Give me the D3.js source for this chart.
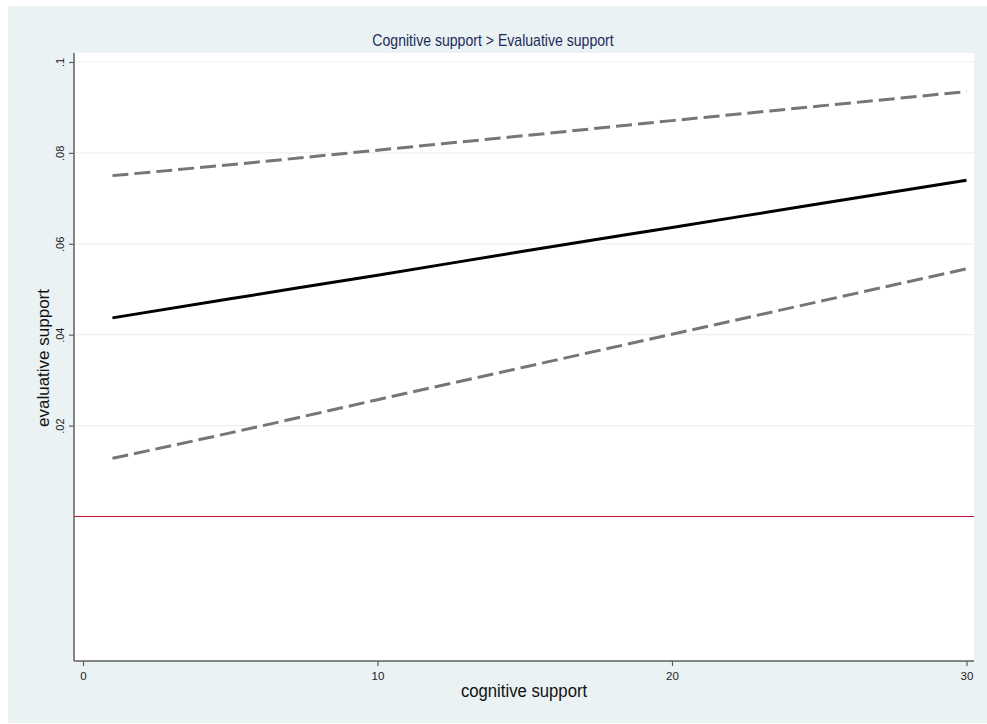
<!DOCTYPE html>
<html>
<head>
<meta charset="utf-8">
<script src="https://cdn.jsdelivr.net/npm/d3@7"></script>
<style>
  body { margin: 0; background: #fff; }
  text { font-family: "Liberation Sans", Arial, sans-serif; }
</style>
</head>
<body>
<div class="chart"></div>
<script>
// values
const xVals = [1, 5, 10, 15, 20, 25, 30];
const fitVals = [0.0437, 0.0479, 0.0531, 0.0584, 0.0636, 0.0688, 0.0740];
const upperVals = [0.0750, 0.0774, 0.0806, 0.0838, 0.0871, 0.0903, 0.0935];
const lowerVals = [0.0128, 0.0184, 0.0257, 0.0329, 0.0401, 0.0473, 0.0545];
const xTicks = [0, 10, 20, 30];
const yTicks = [0.02, 0.04, 0.06, 0.08, 0.1];
const yTickLabels = ['.02', '.04', '.06', '.08', '.1'];
const refLine = 0;

const W = 987, H = 724;
// plot box
const box = {left: 74, top: 53, right: 974, bottom: 661};

const svg = d3.select('.chart')
  .append('svg')
  .attr('width', W)
  .attr('height', H);

// outer graph region
svg.append('rect')
  .attr('x', 8).attr('y', 6)
  .attr('width', W - 8).attr('height', H - 7)
  .attr('fill', '#eaf2f3');

svg.append('rect')
  .attr('x', box.left).attr('y', box.top)
  .attr('width', box.right - box.left).attr('height', box.bottom - box.top)
  .attr('fill', '#fff');

const x = d3.scaleLinear().domain([0, 30]).range([83, 966.5]);
const y = d3.scaleLinear().domain([0, 0.1]).range([516.5, 62]);

// gridlines
svg.append('g').selectAll('line')
  .data(yTicks)
  .enter()
  .append('line')
  .attr('x1', box.left).attr('x2', box.right)
  .attr('y1', d => y(d)).attr('y2', d => y(d))
  .attr('stroke', '#eaf2f3')
  .attr('stroke-width', 1.2);

// reference line at zero
svg.append('line')
  .attr('x1', box.left).attr('x2', box.right)
  .attr('y1', y(refLine)).attr('y2', y(refLine))
  .attr('stroke', '#c8103a')
  .attr('stroke-width', 1.2);

const fitData = xVals.map((d, i) => ({x: d, y: fitVals[i]}));
const upData = xVals.map((d, i) => ({x: d, y: upperVals[i]}));
const lowData = xVals.map((d, i) => ({x: d, y: lowerVals[i]}));

const line = d3.line()
  .x(d => x(d.x))
  .y(d => y(d.y))
  .curve(d3.curveMonotoneX);

[upData, lowData].forEach(data => {
  svg.append('path')
    .datum(data)
    .attr('d', line)
    .attr('fill', 'none')
    .attr('stroke', '#767676')
    .attr('stroke-width', 3)
    .attr('stroke-dasharray', '16,6');
});

svg.append('path')
  .datum(fitData)
  .attr('d', line)
  .attr('fill', 'none')
  .attr('stroke', '#000')
  .attr('stroke-width', 3);

// axes
const axisColor = '#5f5f5f';

const yAxis = d3.axisLeft(y)
  .tickValues(yTicks)
  .tickSize(5)
  .tickFormat((d, i) => yTickLabels[i]);

const gy = svg.append('g')
  .attr('class', 'y-axis')
  .attr('transform', `translate(${box.left},0)`)
  .call(yAxis);
gy.select('.domain').remove();
gy.selectAll('.tick line').attr('stroke', axisColor).attr('stroke-width', 1.2);
gy.selectAll('.tick text')
  .attr('x', 0).attr('dy', null)
  .attr('transform', 'translate(-10,0) rotate(-90)')
  .attr('text-anchor', 'middle')
  .attr('fill', '#222')
  .style('font-size', '11px');

gy.append('line')
  .attr('x1', 0).attr('x2', 0)
  .attr('y1', box.top).attr('y2', box.bottom)
  .attr('stroke', axisColor).attr('stroke-width', 1.5);

const xAxis = d3.axisBottom(x)
  .tickValues(xTicks)
  .tickSize(5)
  .tickFormat(d3.format('d'));

const gx = svg.append('g')
  .attr('class', 'x-axis')
  .attr('transform', `translate(0,${box.bottom})`)
  .call(xAxis);
gx.select('.domain').remove();
gx.selectAll('.tick line').attr('stroke', axisColor).attr('stroke-width', 1.2);
gx.selectAll('.tick text')
  .attr('y', 19).attr('dy', null)
  .attr('fill', '#222')
  .style('font-size', '11.5px');

gx.append('line')
  .attr('x1', box.left).attr('x2', box.right)
  .attr('y1', 0).attr('y2', 0)
  .attr('stroke', axisColor).attr('stroke-width', 1.5);

// title and axis labels (squeezed a little sideways, like the source)
svg.append('g')
  .attr('transform', 'translate(493,46) scale(0.88,1)')
  .append('text')
  .attr('text-anchor', 'middle')
  .attr('fill', '#1c2b5a')
  .style('font-size', '16px')
  .text('Cognitive support > Evaluative support');

svg.append('g')
  .attr('transform', 'translate(524,697) scale(0.88,1)')
  .append('text')
  .attr('text-anchor', 'middle')
  .attr('fill', '#111')
  .style('font-size', '19px')
  .text('cognitive support');

svg.append('text')
  .attr('transform', 'translate(49,358) rotate(-90)')
  .attr('text-anchor', 'middle')
  .attr('fill', '#111')
  .style('font-size', '17px')
  .text('evaluative support');
</script>
</body>
</html>
